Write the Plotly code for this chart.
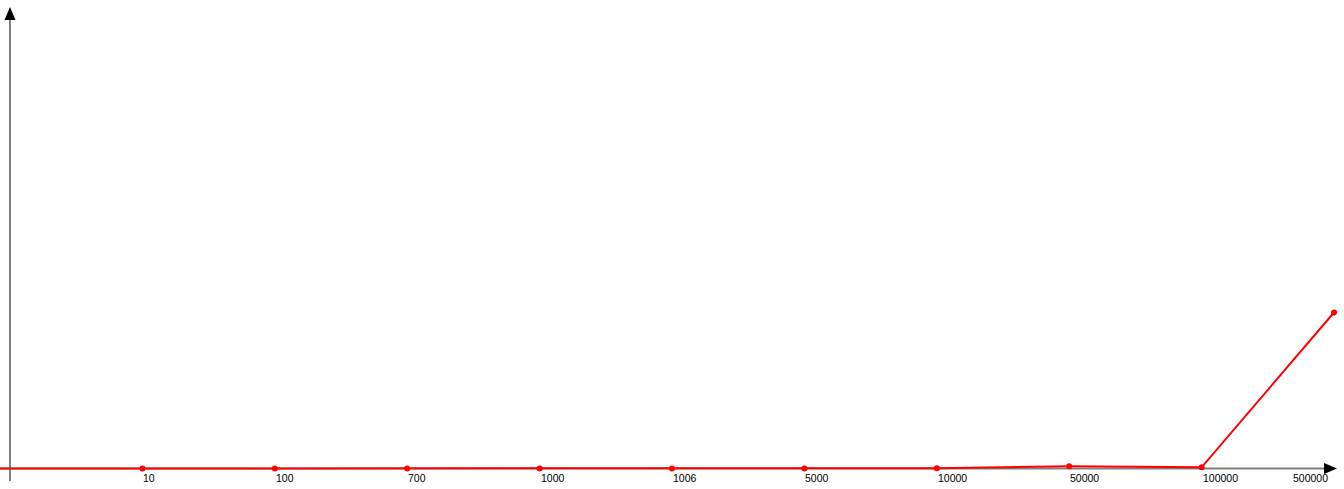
import plotly.graph_objects as go

# ---- data ----
categories = ["", "10", "100", "700", "1000", "1006", "5000", "10000", "50000", "100000", "500000"]
values = [0, 0, 0, 0, 0, 0, 0, 0.3, 2.2, 1.2, 156]
show_marker = [False, True, True, True, True, True, True, True, True, True, True]

W, H = 1344, 489
X0 = 10.0        # pixel of origin
STEP = 132.4     # pixel step between categories
Y0 = 468.5       # pixel of zero

def dx(p):
    return (p - X0) / STEP

def dy(p):
    return Y0 - p

idx = list(range(len(categories)))

fig = go.Figure()

# line extends off the left edge from a leading zero point
fig.add_trace(go.Scatter(
    x=[-1] + idx, y=[0] + values, mode="lines",
    line=dict(color="#ff0000", width=2), hoverinfo="skip", showlegend=False,
))
fig.add_trace(go.Scatter(
    x=[i for i, s in zip(idx, show_marker) if s],
    y=[v for v, s in zip(values, show_marker) if s],
    mode="markers", marker=dict(color="#ff0000", size=6),
    showlegend=False, cliponaxis=False,
))

shapes = [
    # y axis
    dict(type="line", xref="x", yref="y", x0=dx(10), x1=dx(10), y0=dy(481), y1=dy(18),
         line=dict(color="#808080", width=2), layer="below"),
    dict(type="path", xref="x", yref="y",
         path=f"M {dx(10)} {dy(7)} L {dx(4.5)} {dy(20)} L {dx(15.5)} {dy(20)} Z",
         fillcolor="black", line=dict(width=0)),
    # x axis
    dict(type="line", xref="x", yref="y", x0=dx(0), x1=dx(1326), y0=0, y1=0,
         line=dict(color="#808080", width=2), layer="below"),
    dict(type="path", xref="x", yref="y",
         path=f"M {dx(1337)} {dy(468.5)} L {dx(1324)} {dy(463)} L {dx(1324)} {dy(474)} Z",
         fillcolor="black", line=dict(width=0)),
]

annotations = []
for i, lab in enumerate(categories):
    if not lab:
        continue
    last = i == len(categories) - 1
    annotations.append(dict(
        x=dx(1330) if last else i, y=dy(477.5), xref="x", yref="y",
        text=lab, showarrow=False,
        xanchor="right" if last else "left", yanchor="middle",
        xshift=0 if last else -1,
        font=dict(family="Liberation Sans", size=10.5, color="black"),
    ))

fig.update_layout(
    width=W, height=H,
    margin=dict(l=0, r=0, t=0, b=0),
    paper_bgcolor="white", plot_bgcolor="white",
    xaxis=dict(range=[dx(0), dx(W)], visible=False, fixedrange=True),
    yaxis=dict(range=[dy(H), dy(0)], visible=False, fixedrange=True),
    shapes=shapes, annotations=annotations,
    showlegend=False,
)

fig.write_html("out.html", config={"displayModeBar": False})
